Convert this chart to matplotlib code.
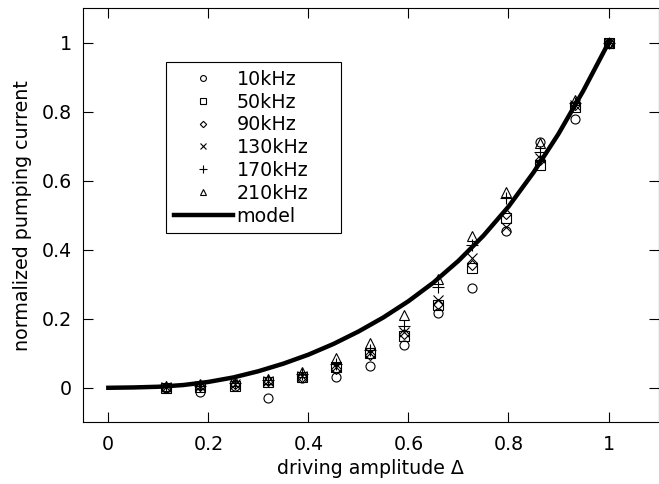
#Corrente de bombeamento normalizada vs amplitude de excitacao
import numpy as np
import matplotlib.pyplot as plt

plt.rcParams['font.family'] = ['DejaVu Sans']

#Dados
delta = [0.115, 0.184, 0.253, 0.32, 0.387, 0.455, 0.524, 0.592, 0.660, 0.728, 0.796, 0.864, 0.932, 1.0]
i_10k  = [0.000, -0.013, 0.005, -0.031, 0.027, 0.030, 0.064, 0.124, 0.216, 0.288, 0.455, 0.713, 0.778, 1.0]
i_50k  = [0.000, 0.003, 0.005, 0.017, 0.032, 0.060, 0.100, 0.150, 0.240, 0.346, 0.493, 0.645, 0.813, 1.0]
i_90k  = [0.000, 0.004, 0.010, 0.020, 0.030, 0.055, 0.095, 0.155, 0.242, 0.356, 0.505, 0.660, 0.820, 1.0]
i_130k = [0.002, 0.004, 0.010, 0.020, 0.035, 0.060, 0.100, 0.162, 0.254, 0.375, 0.467, 0.665, 0.820, 1.0]
i_170k = [0.003, 0.006, 0.015, 0.022, 0.040, 0.070, 0.110, 0.180, 0.293, 0.414, 0.549, 0.684, 0.825, 1.0]
i_210k = [0.005, 0.010, 0.020, 0.025, 0.045, 0.085, 0.130, 0.211, 0.314, 0.440, 0.568, 0.710, 0.835, 1.0]

#Curva do modelo
model_x = [0.0, 0.05, 0.1, 0.15, 0.2, 0.25, 0.3, 0.35, 0.4, 0.45, 0.5,
           0.55, 0.6, 0.65, 0.7, 0.75, 0.8, 0.85, 0.9, 0.95, 1.0]
model_y = [0.0, 0.001, 0.003, 0.008, 0.017, 0.030, 0.048, 0.070, 0.096, 0.127, 0.163,
           0.204, 0.251, 0.305, 0.368, 0.441, 0.525, 0.624, 0.736, 0.862, 1.0]

series = [(i_10k, 'o', 6.5, '10kHz'),
          (i_50k, 's', 6.5, '50kHz'),
          (i_90k, 'D', 5.0, '90kHz'),
          (i_130k, 'x', 7.0, '130kHz'),
          (i_170k, '+', 8.0, '170kHz'),
          (i_210k, '^', 7.0, '210kHz')]

fs = 13.7

fig = plt.figure(figsize=(6.59, 4.84), dpi=100)
ax = fig.add_axes([0.1264, 0.1275, 0.8729, 0.8554])

for vals, mk, ms, lab in series:
    ax.plot(delta, vals, linestyle='none', marker=mk, markersize=ms,
            markerfacecolor='none', markeredgecolor='k', markeredgewidth=0.8, label=lab)

ax.plot(model_x, model_y, color='k', linewidth=3.2, label='model')

ax.set_xlim(-0.05, 1.1)
ax.set_ylim(-0.1, 1.1)
ticks = [0, 0.2, 0.4, 0.6, 0.8, 1]
tick_labels = ['0', '0.2', '0.4', '0.6', '0.8', '1']
ax.set_xticks(ticks)
ax.set_xticklabels(tick_labels)
ax.set_yticks(ticks)
ax.set_yticklabels(tick_labels)
ax.tick_params(direction='in', top=True, right=True, length=7, width=0.8,
               labelsize=fs, color='k')
ax.tick_params(axis='x', pad=9)
ax.tick_params(axis='y', pad=8)
for s in ax.spines.values():
    s.set_linewidth(0.8)

ax.set_xlabel('driving amplitude Δ', fontsize=fs, labelpad=4)
ax.set_ylabel('normalized pumping current', fontsize=fs, labelpad=7)

#Legenda com largura fixa
leg = ax.legend(loc='upper left', bbox_to_anchor=(0.1438, 0.770, 0.304, 0.1), mode='expand',
                borderaxespad=0, fancybox=False, edgecolor='k', framealpha=1, fontsize=fs,
                markerscale=0.65, handlelength=3.1, handletextpad=0.2,
                labelspacing=0.2, borderpad=0.4, numpoints=1)
leg.get_frame().set_linewidth(0.8)

plt.savefig('out.png', dpi=100)
